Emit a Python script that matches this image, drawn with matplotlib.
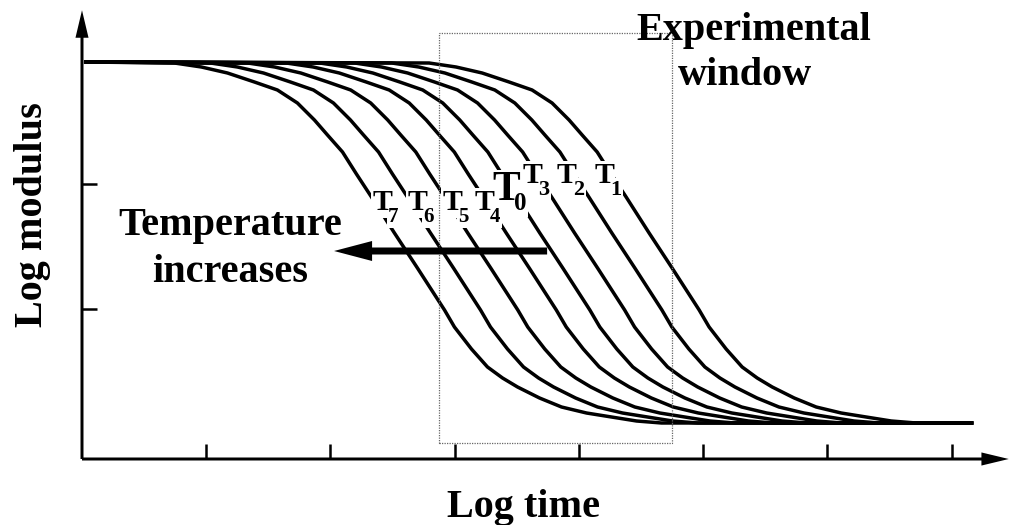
import numpy as np
import matplotlib
matplotlib.use('Agg')
import matplotlib.pyplot as plt
from matplotlib.patches import Rectangle

plt.rcParams['font.family'] = ['Liberation Serif', 'DejaVu Serif']
plt.rcParams['font.weight'] = 'bold'

# master curve (the T1 curve): log time vs log modulus
master_x = np.array([2.794, 3.011, 3.221, 3.438, 3.623, 3.784, 3.921, 4.026, 4.147,
                     4.259, 4.380, 4.565, 4.750, 4.968, 5.048, 5.185, 5.314, 5.435,
                     5.556, 5.733, 5.910, 6.111, 6.312, 6.514, 6.715])
master_y = np.array([3.968, 3.936, 3.888, 3.816, 3.752, 3.648, 3.512, 3.392, 3.256,
                     3.080, 2.896, 2.608, 2.328, 1.992, 1.856, 1.680, 1.536, 1.448,
                     1.376, 1.288, 1.216, 1.168, 1.136, 1.104, 1.088])
glassy = 3.976      # upper plateau
rubbery = 1.088     # lower plateau
t_start = 0.03
t_end = 7.16

# horizontal shift of each temperature, relative to T1
temps = ['1', '2', '3', '0', '4', '5', '6', '7']
shifts = [0.0, -0.30, -0.60, -0.88, -1.15, -1.46, -1.76, -2.05]

# label positions (left edge, baseline) and font sizes
lab_x = [4.122, 3.824, 3.543, 3.301, 3.156, 2.899, 2.617, 2.335]
lab_y = [3.008, 3.008, 3.008, 2.872, 2.792, 2.792, 2.792, 2.792]
lab_size = [21.5, 21.5, 21.5, 30, 21.5, 21.5, 21.5, 21.5]
sub_size = [16, 16, 16, 18, 15, 15, 15, 15]
sub_dx = [11.5, 11.5, 11.5, 16, 11.5, 11.5, 11.5, 11.5]      # points
sub_dy = [-8.5, -8.5, -8.5, -7.5, -8.5, -8.5, -8.5, -8.5]

xticks = [1, 2, 3, 4, 5, 6, 7]
yticks = [2, 3]

window_t = (2.874, 4.750)
window_m = (0.928, 4.208)

fig = plt.figure(figsize=(10.25, 5.25), dpi=100)
ax = fig.add_axes([82/1025, 66/525, 928/1025, 449/525])
ax.set_xlim(0, 7.47)
ax.set_ylim(0.8, 4.392)
for sp in ax.spines.values():
    sp.set_visible(False)
ax.set_xticks(xticks)
ax.set_yticks(yticks)
ax.set_xticklabels([])
ax.set_yticklabels([])
ax.tick_params(direction='in', length=11, width=1.8, color='black')

# axis lines with arrow heads
ax.arrow(0, 0.8, 7.46, 0, width=0.024, head_width=0.105, head_length=0.22,
         length_includes_head=True, fc='black', ec='none', clip_on=False, zorder=5)
ax.arrow(0, 0.8, 0, 3.59, width=0.024, head_width=0.105, head_length=0.22,
         length_includes_head=True, fc='black', ec='none', clip_on=False, zorder=5)

# curves
for s in shifts:
    xs = master_x + s
    m = (xs > t_start) & (xs < t_end)
    cx = [t_start] + list(xs[m]) + [t_end]
    cy = [glassy] + list(master_y[m]) + [rubbery]
    ax.plot(cx, cy, color='black', lw=2.5, solid_joinstyle='round', zorder=2)

# temperature labels: T plus a lowered digit
labels = []
for i, t in enumerate(temps):
    labels.append(ax.text(lab_x[i], lab_y[i], 'T', fontsize=lab_size[i], ha='left',
                          va='baseline', zorder=3))
    labels.append(ax.annotate(t, xy=(lab_x[i], lab_y[i]), xytext=(sub_dx[i], sub_dy[i]),
                              textcoords='offset points', fontsize=sub_size[i],
                              ha='left', va='baseline', zorder=3))

# white patches under the labels so the curves break there
fig.canvas.draw()
renderer = fig.canvas.get_renderer()
inv = ax.transData.inverted()
for lab in labels:
    bb = lab.get_window_extent(renderer).padded(1.5)
    (x0, y0), (x1, y1) = inv.transform([[bb.x0, bb.y0], [bb.x1, bb.y1]])
    ax.add_patch(Rectangle((x0, y0), x1 - x0, y1 - y0, fc='white', ec='none',
                           zorder=2.5))

# experimental window
ax.add_patch(Rectangle((window_t[0], window_m[0]), window_t[1] - window_t[0],
                       window_m[1] - window_m[0], fill=False, ec='#666666',
                       lw=0.9, ls=(0, (1, 1)), zorder=4))
ax.text(5.41, 4.152, 'Experimental', fontsize=29, fontweight='bold',
        ha='center', va='baseline', zorder=6)
ax.text(5.338, 3.792, 'window', fontsize=29, fontweight='bold',
        ha='center', va='baseline', zorder=6)

# temperature arrow
ax.arrow(3.744, 2.464, 2.029 - 3.744, 0, width=0.056, head_width=0.16,
         head_length=0.306, length_includes_head=True, fc='black', ec='none', zorder=6)
ax.text(1.19, 2.592, 'Temperature', fontsize=29, fontweight='bold',
        ha='center', va='baseline')
ax.text(1.19, 2.216, 'increases', fontsize=29, fontweight='bold',
        ha='center', va='baseline')

# axis titles
ax.text(-0.40, 2.756, 'Log modulus', fontsize=29, fontweight='bold', rotation=90,
        ha='center', va='center', clip_on=False)
ax.text(3.551, 0.336, 'Log time', fontsize=29, fontweight='bold',
        ha='center', va='baseline', clip_on=False)

fig.savefig('out.png', dpi=100)
